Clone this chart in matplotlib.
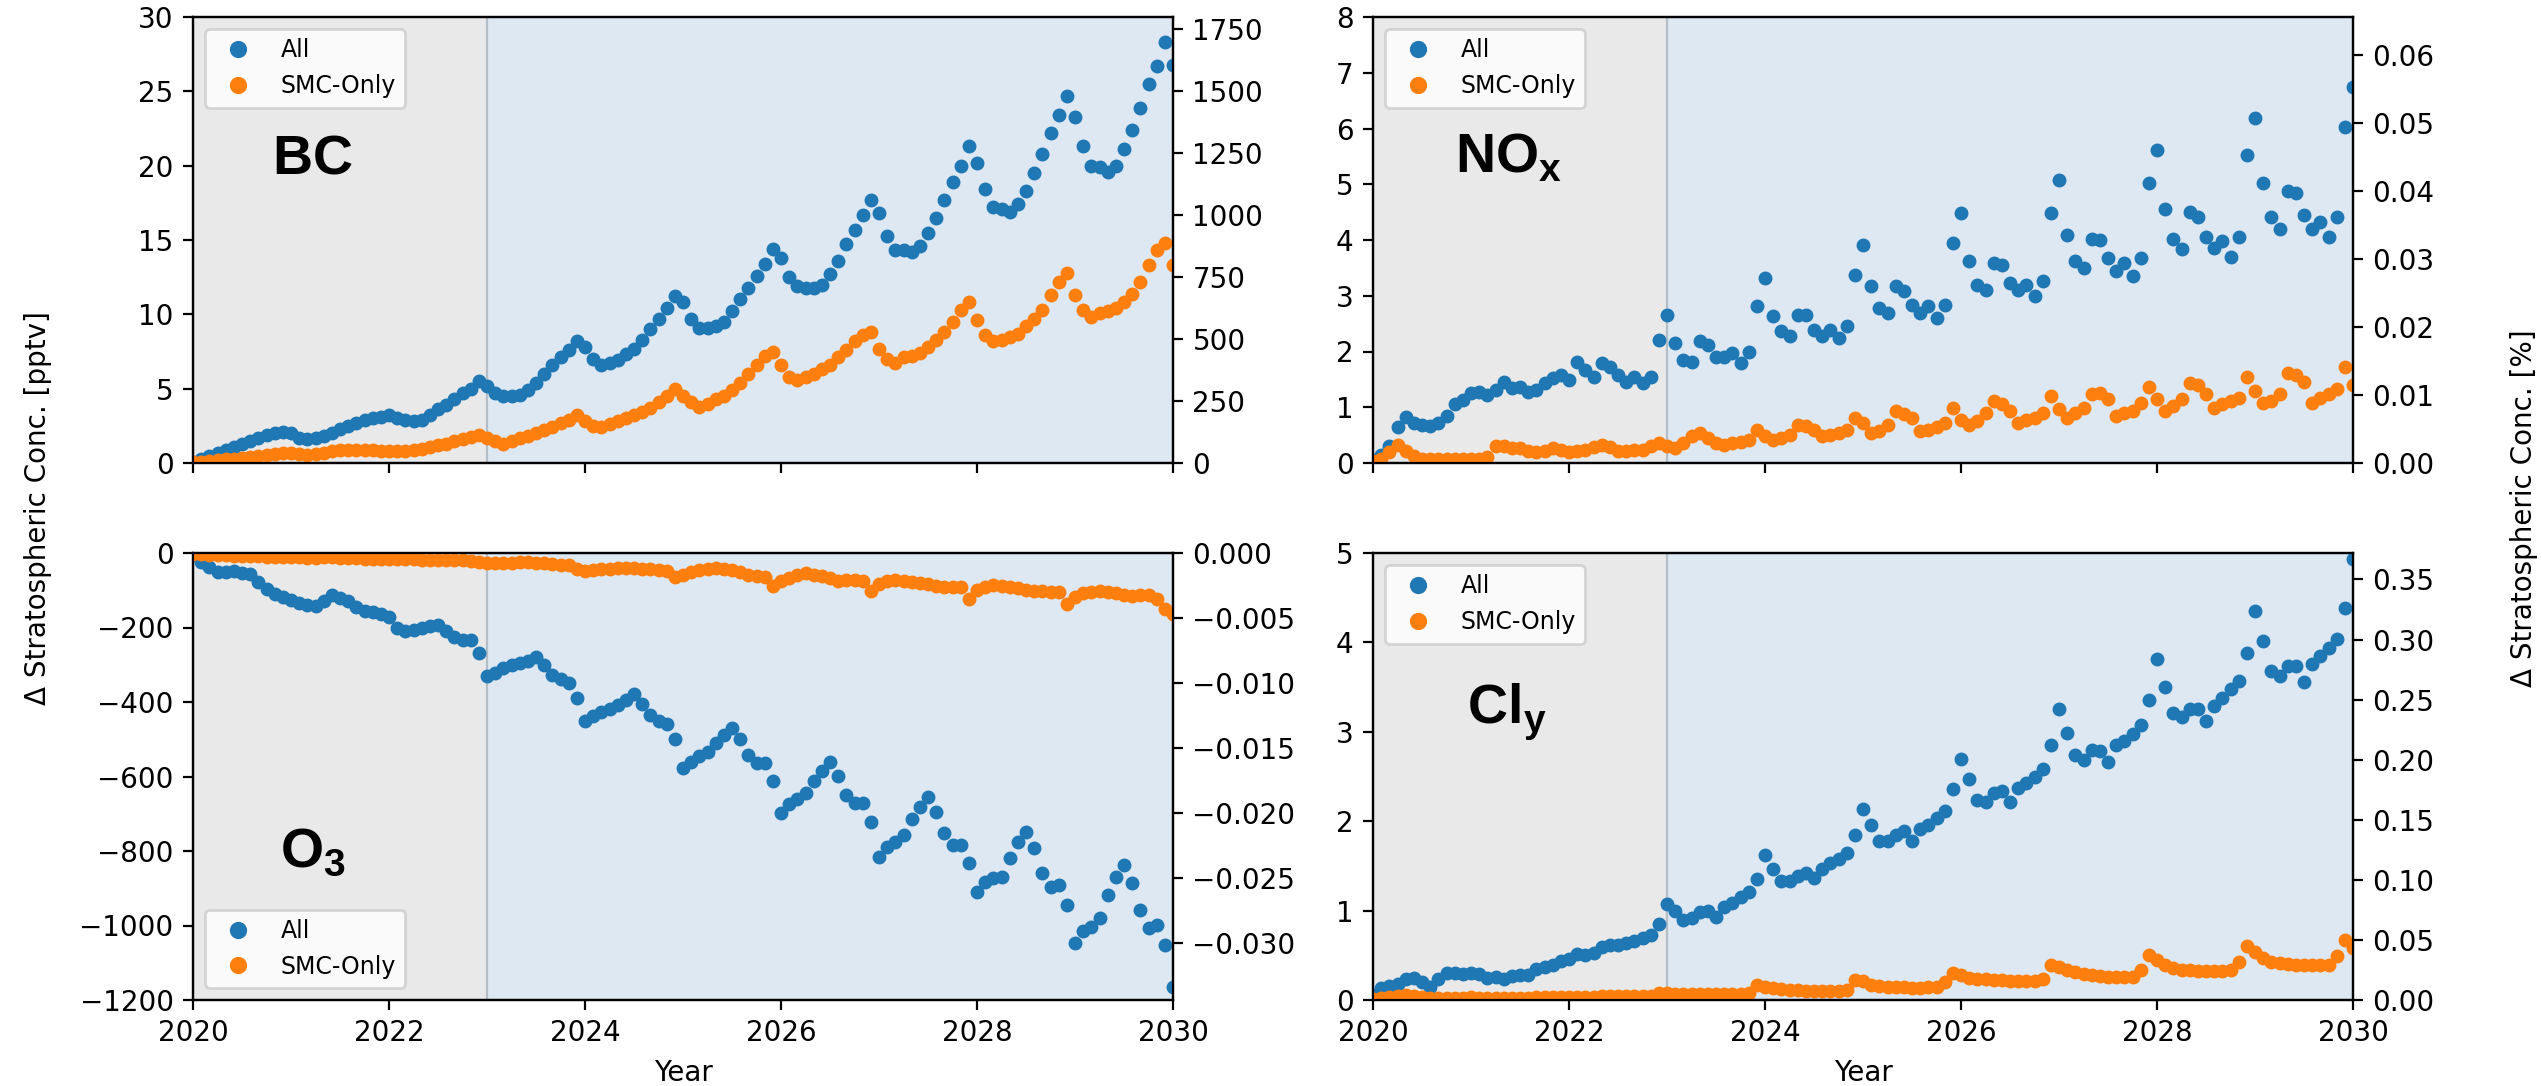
import numpy as np
import matplotlib
matplotlib.use("Agg")
import matplotlib.pyplot as plt

plt.rcParams['mathtext.fontset'] = 'custom'
plt.rcParams['mathtext.rm'] = 'Liberation Sans'
plt.rcParams['mathtext.bf'] = 'Liberation Sans:bold'

# ---------------- data (monthly, 2020-01 .. 2030-01) ----------------
start_year = 2020
n_months = 121

bc_all = [0.1,0.3,0.5,0.7,0.9,1.1,1.3,1.5,1.7,1.9,2.0,2.1,
          2.0,1.7,1.6,1.7,1.8,2.0,2.3,2.5,2.7,2.9,3.0,3.1,
          3.2,3.0,2.9,2.8,2.9,3.2,3.6,3.9,4.3,4.7,5.0,5.5,
          5.2,4.7,4.5,4.5,4.6,4.9,5.4,6.0,6.6,7.1,7.6,8.2,
          7.8,7.0,6.6,6.7,6.9,7.3,7.7,8.3,9.0,9.7,10.4,11.2,
          10.8,9.7,9.1,9.1,9.2,9.5,10.2,11.0,11.8,12.6,13.4,14.4,
          13.8,12.5,11.9,11.8,11.8,12.0,12.7,13.6,14.7,15.7,16.7,17.7,
          16.8,15.3,14.3,14.3,14.2,14.6,15.5,16.5,17.7,18.9,20.0,21.3,
          20.2,18.4,17.2,17.1,16.9,17.4,18.3,19.5,20.8,22.2,23.4,24.7,
          23.3,21.3,20.0,19.9,19.6,20.0,21.1,22.4,23.9,25.5,26.7,28.3,
          26.8]
bc_smc = [0.05,0.1,0.15,0.2,0.25,0.3,0.35,0.4,0.45,0.55,0.6,0.7,
          0.7,0.6,0.55,0.6,0.7,0.8,0.9,0.9,0.9,0.9,0.85,0.8,
          0.8,0.8,0.8,0.85,0.95,1.05,1.2,1.3,1.45,1.6,1.75,1.9,
          1.7,1.45,1.3,1.45,1.65,1.8,2.0,2.2,2.4,2.7,2.9,3.2,
          2.8,2.5,2.4,2.6,2.8,3.0,3.2,3.4,3.7,4.1,4.5,5.0,
          4.5,4.1,3.8,4.0,4.3,4.5,4.9,5.4,6.0,6.6,7.2,7.5,
          6.6,5.8,5.6,5.8,6.0,6.3,6.6,7.1,7.6,8.2,8.6,8.8,
          7.7,7.0,6.7,7.1,7.2,7.4,7.8,8.3,8.8,9.5,10.3,10.8,
          9.6,8.6,8.2,8.3,8.5,8.7,9.2,9.7,10.3,11.3,12.2,12.8,
          11.3,10.3,9.8,10.1,10.2,10.4,10.8,11.4,12.2,13.3,14.3,14.8,
          13.3]

nox_all = [0.05,0.15,0.3,0.65,0.82,0.72,0.68,0.66,0.72,0.84,1.05,1.13,
           1.25,1.28,1.22,1.31,1.46,1.34,1.37,1.28,1.31,1.43,1.52,1.58,
           1.49,1.82,1.67,1.55,1.79,1.73,1.58,1.46,1.55,1.43,1.55,2.21,
           2.66,2.15,1.85,1.82,2.18,2.12,1.91,1.91,1.97,1.79,2.0,2.81,
           3.31,2.63,2.36,2.27,2.66,2.66,2.39,2.27,2.39,2.24,2.45,3.37,
           3.91,3.17,2.78,2.69,3.17,3.08,2.84,2.69,2.81,2.6,2.84,3.95,
           4.48,3.62,3.2,3.11,3.59,3.56,3.23,3.11,3.2,2.99,3.27,4.48,
           5.08,4.09,3.62,3.5,4.02,4.0,3.68,3.45,3.59,3.35,3.68,5.02,
           5.62,4.55,4.02,3.84,4.5,4.42,4.05,3.86,3.99,3.69,4.05,5.53,
           6.19,5.02,4.41,4.2,4.87,4.84,4.44,4.2,4.33,4.05,4.41,6.02,
           6.74]
nox_smc = [0.03,0.08,0.2,0.33,0.22,0.12,0.08,0.07,0.07,0.08,0.08,0.07,
           0.07,0.08,0.1,0.3,0.3,0.27,0.27,0.22,0.2,0.22,0.27,0.24,
           0.2,0.22,0.24,0.28,0.33,0.28,0.22,0.21,0.24,0.24,0.3,0.36,
           0.3,0.27,0.35,0.48,0.54,0.45,0.36,0.33,0.35,0.38,0.42,0.6,
           0.48,0.42,0.45,0.5,0.69,0.66,0.6,0.48,0.5,0.54,0.6,0.81,
           0.72,0.54,0.57,0.69,0.93,0.87,0.81,0.57,0.6,0.65,0.71,0.99,
           0.78,0.69,0.75,0.9,1.11,1.05,0.93,0.72,0.77,0.81,0.9,1.2,
           0.96,0.81,0.9,0.99,1.23,1.26,1.14,0.84,0.9,0.94,1.08,1.37,
           1.14,0.94,1.02,1.14,1.43,1.4,1.23,0.99,1.05,1.11,1.17,1.55,
           1.29,1.08,1.11,1.23,1.61,1.58,1.46,1.08,1.17,1.23,1.32,1.73,
           1.4]

o3_all = [-5,-25,-38,-52,-52,-49,-53,-57,-78,-97,-110,-119,
          -126,-133,-139,-143,-128,-112,-121,-130,-146,-155,-159,-163,
          -172,-201,-209,-206,-202,-196,-194,-210,-226,-233,-234,-268,
          -330,-322,-309,-300,-296,-289,-280,-300,-328,-338,-348,-390,
          -452,-438,-426,-418,-408,-395,-378,-405,-434,-452,-460,-500,
          -578,-560,-546,-533,-510,-488,-470,-500,-542,-564,-564,-613,
          -698,-673,-661,-645,-611,-584,-560,-598,-649,-670,-672,-721,
          -815,-790,-777,-757,-715,-682,-654,-694,-752,-784,-784,-833,
          -909,-882,-873,-869,-819,-775,-748,-793,-860,-896,-891,-945,
          -1048,-1016,-1003,-979,-918,-869,-837,-887,-958,-1007,-998,-1052,
          -1164]
o3_smc = [-2,-4,-5,-6,-6,-7,-8,-9,-9,-10,-10,-11,
          -12,-12,-13,-13,-12,-12,-13,-14,-14,-15,-15,-16,
          -16,-17,-17,-17,-18,-18,-18,-19,-20,-20,-21,-24,
          -28,-27,-26,-26,-25,-25,-26,-28,-30,-31,-33,-44,
          -47,-45,-43,-42,-41,-40,-41,-42,-44,-45,-48,-64,
          -60,-50,-46,-42,-40,-42,-45,-52,-58,-62,-64,-88,
          -74,-66,-58,-55,-58,-63,-68,-74,-73,-72,-75,-102,
          -84,-76,-73,-74,-78,-81,-84,-88,-90,-90,-92,-123,
          -100,-90,-86,-88,-92,-95,-99,-102,-103,-104,-106,-137,
          -117,-108,-104,-103,-104,-108,-114,-116,-113,-114,-124,-150,
          -165]

cly_all = [0.06,0.13,0.16,0.18,0.23,0.25,0.2,0.15,0.24,0.3,0.3,0.29,
           0.3,0.29,0.25,0.26,0.24,0.27,0.28,0.28,0.35,0.37,0.39,0.44,
           0.46,0.51,0.5,0.53,0.59,0.62,0.61,0.64,0.66,0.69,0.73,0.85,
           1.07,1.0,0.9,0.92,0.98,1.0,0.93,1.04,1.09,1.15,1.21,1.35,
           1.62,1.47,1.33,1.33,1.39,1.42,1.36,1.47,1.53,1.58,1.64,1.85,
           2.14,1.96,1.78,1.78,1.85,1.89,1.78,1.91,1.96,2.04,2.11,2.36,
           2.7,2.47,2.24,2.22,2.32,2.34,2.22,2.37,2.43,2.5,2.58,2.85,
           3.26,2.99,2.74,2.68,2.8,2.78,2.66,2.85,2.9,2.97,3.08,3.36,
           3.81,3.5,3.21,3.16,3.25,3.25,3.12,3.29,3.38,3.48,3.57,3.88,
           4.35,4.02,3.68,3.62,3.74,3.74,3.56,3.76,3.85,3.94,4.04,4.39,
           4.93]
cly_smc = [0.01,0.02,0.03,0.04,0.06,0.04,0.03,0.02,0.02,0.02,0.02,0.02,
           0.03,0.02,0.02,0.02,0.02,0.02,0.02,0.02,0.03,0.03,0.03,0.03,
           0.03,0.03,0.03,0.03,0.04,0.04,0.04,0.04,0.04,0.04,0.05,0.08,
           0.08,0.07,0.07,0.07,0.07,0.07,0.07,0.07,0.07,0.07,0.08,0.17,
           0.15,0.13,0.12,0.11,0.11,0.1,0.1,0.1,0.1,0.1,0.11,0.22,
           0.21,0.17,0.16,0.15,0.14,0.14,0.13,0.13,0.14,0.15,0.2,0.3,
           0.28,0.25,0.24,0.23,0.22,0.22,0.21,0.21,0.21,0.21,0.24,0.39,
           0.37,0.33,0.31,0.29,0.28,0.27,0.26,0.26,0.26,0.26,0.34,0.5,
           0.45,0.39,0.36,0.34,0.33,0.32,0.32,0.32,0.32,0.33,0.42,0.6,
           0.54,0.47,0.43,0.41,0.4,0.39,0.39,0.39,0.39,0.39,0.49,0.67,
           0.58]

series_labels = ["All", "SMC-Only"]
x_ticks = [2020, 2022, 2024, 2026, 2028, 2030]
split_year = 2023

# panel settings: left limits/ticks, right limits/ticks
panels = {
    "BC":  dict(all=bc_all, smc=bc_smc, ylim=(0, 30), yticks=np.arange(0, 31, 5),
                rlim=(0, 1800), rticks=np.arange(0, 1751, 250),
                label=r"$\mathbf{BC}$", lpos=(0.081, 0.650), legloc="upper left"),
    "NOx": dict(all=nox_all, smc=nox_smc, ylim=(0, 8), yticks=np.arange(0, 9, 1),
                rlim=(0, 0.0656), rticks=np.round(np.arange(0, 0.061, 0.01), 2),
                label=r"$\mathbf{NO}_{\mathbf{x}}$", lpos=(0.084, 0.652), legloc="upper left"),
    "O3":  dict(all=o3_all, smc=o3_smc, ylim=(-1200, 0), yticks=np.arange(-1200, 1, 200),
                rlim=(-0.0344, 0), rticks=np.round(np.arange(-0.030, 0.0001, 0.005), 3),
                label=r"$\mathbf{O}_{\mathbf{3}}$", lpos=(0.089, 0.2975), legloc="lower left"),
    "Cly": dict(all=cly_all, smc=cly_smc, ylim=(0, 5), yticks=np.arange(0, 6, 1),
                rlim=(0, 0.372), rticks=np.round(np.arange(0, 0.351, 0.05), 2),
                label=r"$\mathbf{Cl}_{\mathbf{y}}$", lpos=(0.096, 0.620), legloc="upper left"),
}

years = start_year + np.arange(n_months) / 12.0

W, H = 2542, 1086
fig = plt.figure(figsize=(W / 200, H / 200), dpi=200)

left_x, right_x, width = 193 / W, 1373 / W, 980 / W
top_y, top_h = 1 - 463 / H, 446 / H
bot_y, bot_h = 1 - 1000 / H, 447 / H
rects = {"BC": [left_x, top_y, width, top_h],
         "NOx": [right_x, top_y, width, top_h],
         "O3": [left_x, bot_y, width, bot_h],
         "Cly": [right_x, bot_y, width, bot_h]}

blue, orange = "#1f77b4", "#ff7f0e"

for name, p in panels.items():
    ax = fig.add_axes(rects[name])
    ax.axvspan(2020, split_year, color="#e9e9e9", zorder=0, lw=0)
    ax.axvspan(split_year, 2030, color="#dde8f2", zorder=0, lw=0)
    ax.axvline(split_year, color="#b3bec8", lw=0.8, zorder=1)
    ax.plot(years, p["all"], "o", ms=4.0, color=blue, label=series_labels[0], zorder=3)
    ax.plot(years, p["smc"], "o", ms=4.0, color=orange, label=series_labels[1], zorder=3)
    ax.set_xlim(2020, 2030)
    ax.set_ylim(*p["ylim"])
    ax.set_yticks(p["yticks"])
    ax.set_xticks(x_ticks)
    if name in ("BC", "NOx"):
        ax.set_xticklabels([])
    else:
        ax.set_xlabel("Year")
    ax.legend(loc=p["legloc"], fontsize=8.5, markerscale=1.3)
    ax.text(p["lpos"][0], p["lpos"][1], p["label"], transform=ax.transAxes,
            fontsize=20, ha="left", va="baseline", zorder=5)
    ax2 = ax.twinx()
    ax2.set_ylim(*p["rlim"])
    ax2.set_yticks(p["rticks"])

fig.text(0.015, 0.532, "Δ Stratospheric Conc. [pptv]", rotation=90,
         ha="center", va="center", fontsize=10)
fig.text(0.993, 0.532, "Δ Stratospheric Conc. [%]", rotation=90,
         ha="center", va="center", fontsize=10)

fig.savefig("out.png", dpi=200)
